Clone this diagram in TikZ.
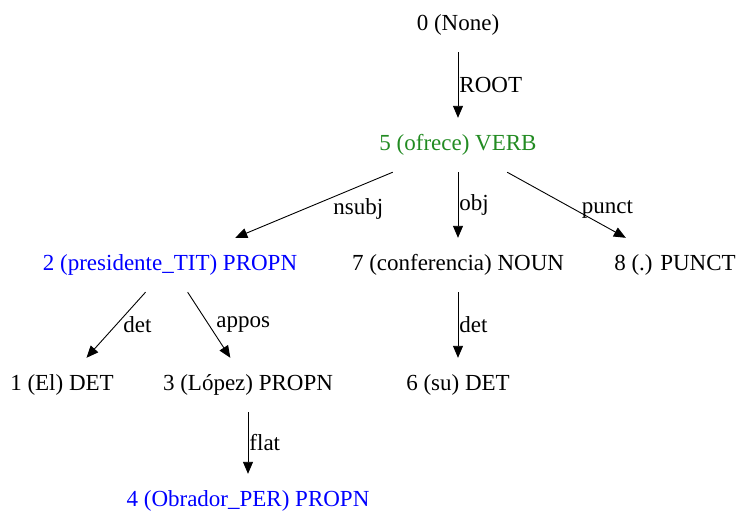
\documentclass[tikz,border=0pt]{standalone}
\usepackage{fontspec}
\setmainfont{Liberation Serif}
\usetikzlibrary{arrows.meta}
\definecolor{verbgreen}{RGB}{34,139,34}

\tikzset{
  tok/.style={inner xsep=8pt,minimum height=54pt,font=\fontsize{23}{27}\selectfont},
  dep/.style={-{Triangle[length=12pt,width=10pt]},line width=0.9pt},
  lbl/.style={inner sep=1pt,anchor=west,font=\fontsize{23}{27}\selectfont}
}

\begin{document}
\begin{tikzpicture}[x=1pt,y=-1pt]
\useasboundingbox (0,0) rectangle (736,512);
% tokens
\node[tok] (n0) at (458,25) {0 (None)};
\node[tok,verbgreen] (n5) at (458,145) {5 (ofrece) VERB};
\node[tok,blue] (n2) at (170,265) {2 (presidente\_TIT) PROPN};
\node[tok] (n7) at (458,265) {7 (conferencia) NOUN};
\node[tok] (n8) at (675,265) {8 (.) PUNCT};
\node[tok] (n1) at (62,385) {1 (El) DET};
\node[tok] (n3) at (248,385) {3 (López) PROPN};
\node[tok] (n6) at (458,385) {6 (su) DET};
\node[tok,blue] (n4) at (248,501) {4 (Obrador\_PER) PROPN};
% dependencies
\draw[dep] (n0) -- node[lbl] {ROOT} (n5);
\draw[dep] (n5) -- node[lbl,xshift=18pt,yshift=-4pt] {nsubj} (n2);
\draw[dep] (n5) -- node[lbl] {obj} (n7);
\draw[dep] (n5) -- node[lbl,xshift=14pt,yshift=-4pt] {punct} (n8);
\draw[dep] (n2) -- node[lbl,xshift=6pt] {det} (n1);
\draw[dep] (n2) -- node[lbl,xshift=6pt] {appos} (n3);
\draw[dep] (n7) -- node[lbl] {det} (n6);
\draw[dep] (n3) -- node[lbl] {flat} (n4);
\end{tikzpicture}
\end{document}
